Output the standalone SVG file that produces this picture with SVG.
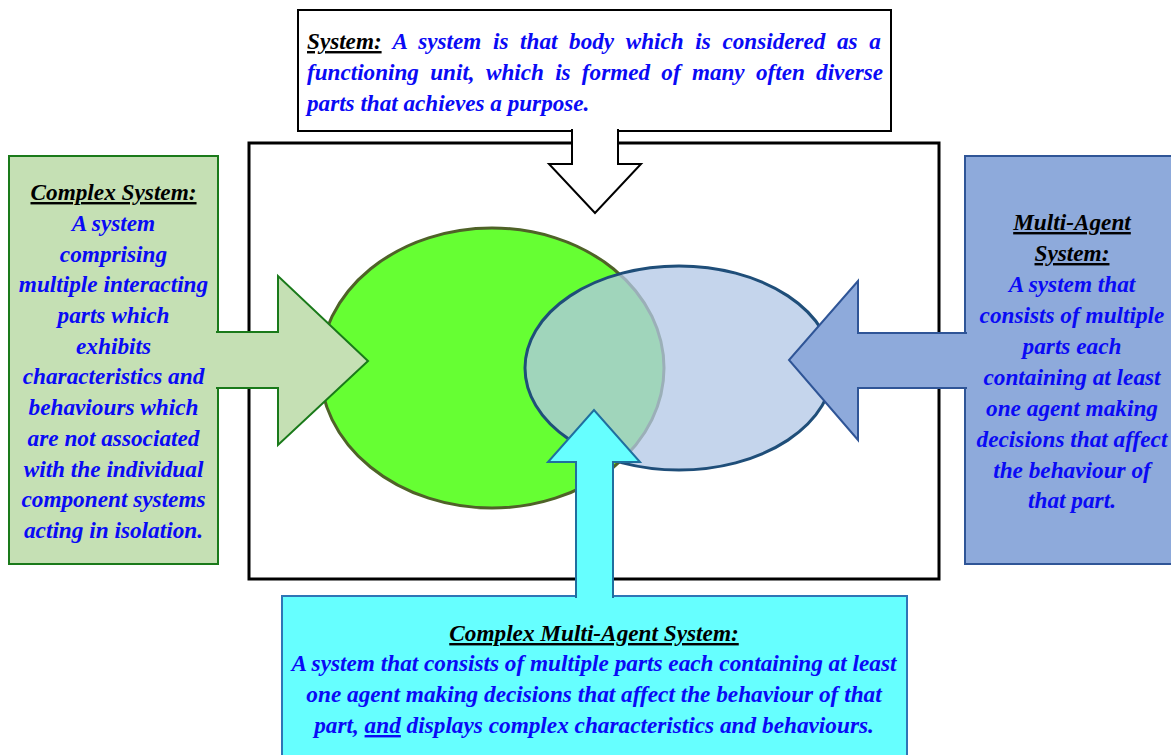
<svg xmlns="http://www.w3.org/2000/svg" width="1171" height="755" viewBox="0 0 1171 755">
  <style>
    .t { font-family: "Liberation Serif", "Times New Roman", serif; font-weight: bold; font-style: italic; font-size: 24px; fill: #0a0af5; }
    .h { fill: #000; text-decoration: underline; }
    .mid { text-anchor: middle; }
    .frame { fill: none; stroke: #000; stroke-width: 3; }
  </style>
  <rect width="1171" height="755" fill="#fff"/>

  <!-- outer frame -->
  <rect class="frame" x="249" y="143" width="690" height="436"/>

  <!-- Venn ellipses -->
  <g id="complex-set">
    <ellipse cx="492" cy="368" rx="172" ry="140" fill="#66ff33" stroke="#4f6228" stroke-width="3"/>
  </g>
  <g id="multi-agent-set">
    <ellipse cx="679" cy="368" rx="154" ry="102" fill="rgb(179,200,230)" fill-opacity="0.76" stroke="#1f4e79" stroke-width="3"/>
  </g>

  <!-- top definition box (first two lines justified with word spacing) -->
  <g id="system">
    <rect x="298" y="10" width="593" height="121" fill="#fff" stroke="#000" stroke-width="2"/>
    <g class="t" transform="translate(307 0) scale(0.965 1)">
      <text x="0" y="49" word-spacing="6.1"><tspan class="h">System:</tspan> A system is that body which is considered as a</text>
      <text x="0" y="80" word-spacing="5.7">functioning unit, which is formed of many often diverse</text>
      <text x="0" y="111">parts that achieves a purpose.</text>
    </g>
  </g>

  <!-- left definition box -->
  <g id="complex-system">
    <rect x="9" y="156" width="209" height="408" fill="#c5e0b4" stroke="#1a7a1a" stroke-width="2"/>
    <g class="t mid" transform="translate(113.5 0) scale(0.97 1)">
      <text x="0" y="200" class="h">Complex System:</text>
      <text x="0" y="231">A system</text>
      <text x="0" y="261.7">comprising</text>
      <text x="0" y="292.4">multiple interacting</text>
      <text x="0" y="323.1">parts which</text>
      <text x="0" y="353.8">exhibits</text>
      <text x="0" y="384.5">characteristics and</text>
      <text x="0" y="415.2">behaviours which</text>
      <text x="0" y="445.9">are not associated</text>
      <text x="0" y="476.6">with the individual</text>
      <text x="0" y="507.3">component systems</text>
      <text x="0" y="538">acting in isolation.</text>
    </g>
  </g>

  <!-- right definition box -->
  <g id="multi-agent-system">
    <rect x="965" y="156" width="214" height="408" fill="#8eaadb" stroke="#2f5597" stroke-width="2"/>
    <g class="t mid" transform="translate(1072 0) scale(0.97 1)">
      <text x="0" y="230" class="h">Multi-Agent</text>
      <text x="0" y="261" class="h">System:</text>
      <text x="0" y="292">A system that</text>
      <text x="0" y="323">consists of multiple</text>
      <text x="0" y="354">parts each</text>
      <text x="0" y="385">containing at least</text>
      <text x="0" y="416">one agent making</text>
      <text x="0" y="447">decisions that affect</text>
      <text x="0" y="478">the behaviour of</text>
      <text x="0" y="508">that part.</text>
    </g>
  </g>

  <!-- bottom definition box -->
  <g id="complex-multi-agent-system">
    <rect x="282" y="596" width="625" height="170" fill="#66ffff" stroke="#2e75b6" stroke-width="2"/>
    <g class="t mid" transform="translate(594 0) scale(0.97 1)">
      <text x="0" y="641" class="h">Complex Multi-Agent System:</text>
      <text x="0" y="671">A system that consists of multiple parts each containing at least</text>
      <text x="0" y="702">one agent making decisions that affect the behaviour of that</text>
      <text x="0" y="733">part, <tspan text-decoration="underline">and</tspan> displays complex characteristics and behaviours.</text>
    </g>
  </g>

  <!-- block arrows linking the definitions to the sets -->
  <g id="connectors">
    <path d="M572,129 L572,164 L549,164 L595,213 L641,164 L618,164 L618,129" fill="#fff" stroke="#000" stroke-width="2"/>
    <path d="M216,332 L278,332 L278,276 L368,361 L278,445 L278,388 L216,388" fill="#c5e0b4" stroke="#1a7a1a" stroke-width="2"/>
    <path d="M967,333 L858,333 L858,281 L789,360 L858,440 L858,388 L967,388" fill="#8eaadb" stroke="#2f5597" stroke-width="2"/>
    <path d="M576,598 L576,462 L548,462 L594,410 L640,462 L613,462 L613,598" fill="#66ffff" stroke="#1f6f9f" stroke-width="2"/>
  </g>
</svg>
